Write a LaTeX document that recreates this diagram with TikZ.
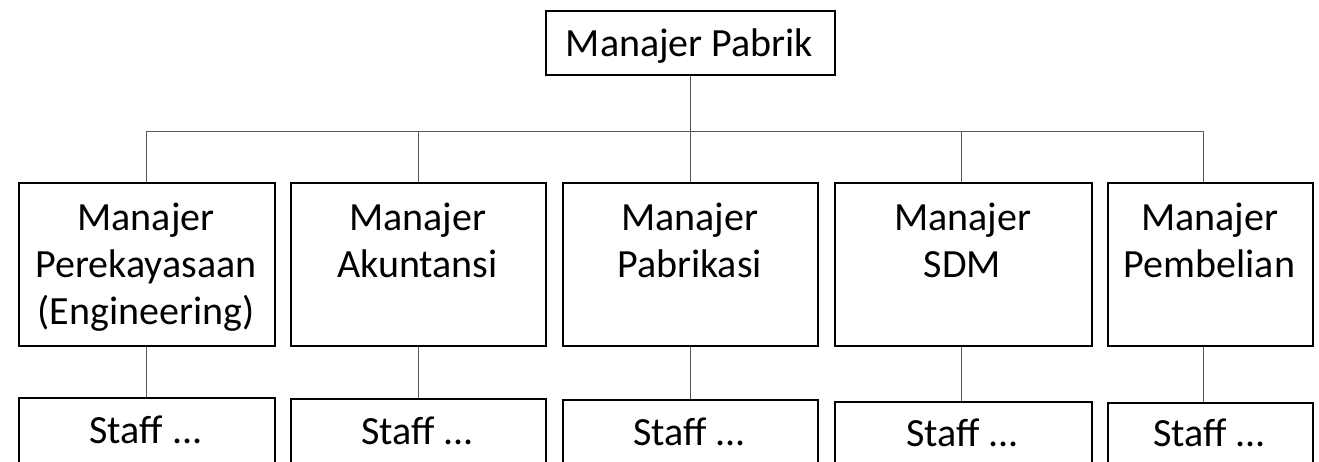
\documentclass[tikz,border=0pt]{standalone}
\usepackage{fontspec}
\setmainfont{Carlito}
\begin{document}
\begin{tikzpicture}[x=1pt,y=1pt,
  box/.style={draw=black,line width=1.6pt,inner sep=0pt,anchor=north west},
  txt/.style={inner sep=0pt,anchor=base,align=center,font=\fontsize{40}{47}\selectfont},
  conn/.style={draw=black!65,line width=1pt}]
\useasboundingbox (0,0) rectangle (1319,-461);
\clip (0,0) rectangle (1319,-461);
\fill[white] (0,0) rectangle (1319,-461);
% top
\node[box,minimum width=289pt,minimum height=64pt] (top) at (545,-10) {};
\node[txt] (toptxt) at (689.5,-56) {Manajer Pabrik};
% level 2 boxes
\node[box,minimum width=256pt,minimum height=163pt] (b1) at (18,-182) {};
\node[box,minimum width=255pt,minimum height=163pt] (b2) at (290,-182) {};
\node[box,minimum width=255pt,minimum height=163pt] (b3) at (562,-182) {};
\node[box,minimum width=257pt,minimum height=163pt] (b4) at (834,-182) {};
\node[box,minimum width=205pt,minimum height=163pt] (b5) at (1107,-182) {};
% base anchor = baseline of the last line
\node[txt] (t1) at (146,-324) {Manajer\\Perekayasaan\\(Engineering)};
\node[txt] (t2) at (417.5,-277) {Manajer\\Akuntansi};
\node[txt] (t3) at (689.5,-277) {Manajer\\Pabrikasi};
\node[txt] (t4) at (962.5,-277) {Manajer\\SDM};
\node[txt] (t5) at (1209.5,-277) {Manajer\\Pembelian};
% staff boxes
\node[box,minimum width=256pt,minimum height=64.6pt] (s1) at (18,-397) {};
\node[box,minimum width=255pt,minimum height=64.6pt] (s2) at (290,-398) {};
\node[box,minimum width=255pt,minimum height=64.6pt] (s3) at (562,-399) {};
\node[box,minimum width=257pt,minimum height=64.6pt] (s4) at (834,-401) {};
\node[box,minimum width=205pt,minimum height=64.6pt] (s5) at (1107,-402) {};
\node[txt] (st1) at (146,-443) {Staff ...};
\node[txt] (st2) at (417.5,-444) {Staff ...};
\node[txt] (st3) at (689.5,-445) {Staff ...};
\node[txt] (st4) at (962.5,-446) {Staff ...};
\node[txt] (st5) at (1209.5,-446) {Staff ...};
% connectors
\coordinate (h1) at (146,-131);
\coordinate (h2) at (418,-131);
\coordinate (h3) at (690,-131);
\coordinate (h4) at (961,-131);
\coordinate (h5) at (1203,-131);
\draw[conn] (h1) -- (h5);
\draw[conn] (top.south -| h3) -- (h3);
\foreach \i in {1,...,5}{
  \draw[conn] (h\i) -- (h\i |- b\i.north);
  \draw[conn] (b\i.south -| h\i) -- (h\i |- s\i.north);
}
\end{tikzpicture}
\end{document}
